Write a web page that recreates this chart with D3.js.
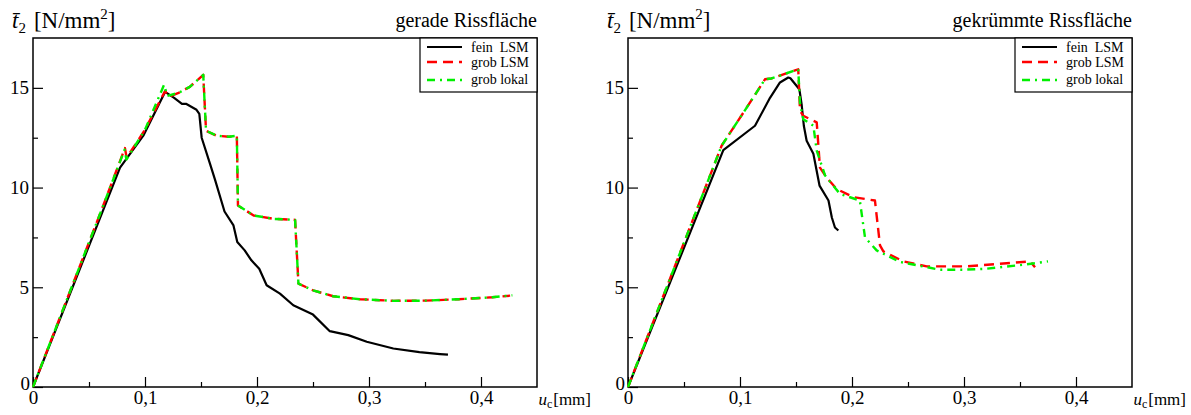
<!DOCTYPE html>
<html>
<head>
<meta charset="utf-8">
<script src="https://cdn.jsdelivr.net/npm/d3@7"></script>
<style>
  html, body { margin: 0; padding: 0; background: #fff; }
  svg { display: block; }
  svg text { font-family: "Liberation Serif", "DejaVu Serif", serif !important; fill: #000; }
</style>
</head>
<body>
<svg id="chart" width="1191" height="415"></svg>
<script>
// ---- data (u_c in mm, t2 in N/mm^2) ----
const panelTitles = ["gerade Rissfläche", "gekrümmte Rissfläche"];
const seriesNames = ["fein  LSM", "grob LSM", "grob lokal"];
const xTicks = [0, 0.1, 0.2, 0.3, 0.4];
const yTicks = [0, 5, 10, 15];

// left panel: gerade Rissfläche
const leftFein = [
  [0,0],[0.0777,11.0],[0.0985,12.6],[0.118,14.8],[0.126,14.5],[0.133,14.2],[0.1366,14.2],
  [0.146,13.9],[0.1485,13.7],[0.1506,12.5],[0.158,11.2],[0.1625,10.4],[0.171,8.8],
  [0.179,8.1],[0.1824,7.27],[0.189,6.85],[0.195,6.35],[0.202,5.93],[0.2086,5.1],
  [0.2205,4.68],[0.2324,4.1],[0.25,3.63],[0.265,2.8],[0.2815,2.6],[0.298,2.27],
  [0.3217,1.93],[0.345,1.75],[0.3634,1.65],[0.3705,1.62]
];
const leftGrobLSM = [
  [0,0],[0.06,8.7],[0.0821,11.98],[0.0836,11.5],[0.1,12.9],[0.118,14.85],[0.121,14.55],
  [0.13,14.75],[0.14,15.05],[0.152,15.65],[0.1545,12.85],[0.164,12.6],[0.175,12.55],
  [0.182,12.6],[0.183,9.1],[0.197,8.6],[0.215,8.43],[0.234,8.38],[0.237,5.18],
  [0.25,4.85],[0.268,4.55],[0.292,4.4],[0.322,4.32],[0.35,4.33],[0.38,4.4],[0.41,4.5],[0.426,4.58]
];
const leftGrobLokal = [
  [0,0],[0.06,8.7],[0.0818,11.9],[0.0834,11.4],[0.1,12.9],[0.117,15.15],[0.12,14.6],
  [0.13,14.75],[0.14,15.05],[0.152,15.65],[0.1545,12.85],[0.164,12.6],[0.175,12.55],
  [0.182,12.6],[0.183,9.1],[0.197,8.6],[0.215,8.43],[0.234,8.38],[0.237,5.18],
  [0.25,4.85],[0.268,4.55],[0.292,4.4],[0.322,4.32],[0.35,4.33],[0.38,4.4],[0.41,4.5],[0.428,4.6]
];

// right panel: gekrümmte Rissfläche
const rightFein = [
  [0,0],[0.0851,11.88],[0.1134,13.1],[0.1268,14.5],[0.1357,15.27],[0.1431,15.52],[0.145,15.48],
  [0.153,14.93],[0.155,14.18],[0.157,13.1],[0.1595,12.35],[0.1655,11.7],[0.171,10.1],
  [0.179,9.35],[0.182,8.5],[0.1848,8.0],[0.1878,7.85]
];
const rightGrobLSM = [
  [0,0],[0.0836,12.1],[0.109,14.27],[0.1223,15.43],[0.128,15.47],[0.14,15.7],[0.152,15.93],
  [0.1536,13.85],[0.1565,13.6],[0.1685,13.27],[0.1714,11.0],[0.1774,10.5],[0.1863,9.93],
  [0.2012,9.52],[0.2205,9.35],[0.225,7.1],[0.228,6.8],[0.2458,6.3],[0.2667,6.05],
  [0.3024,6.05],[0.332,6.18],[0.359,6.3],[0.3634,6.0]
];
const rightGrobLokal = [
  [0,0],[0.0836,12.1],[0.109,14.27],[0.1223,15.43],[0.128,15.47],[0.14,15.7],[0.152,15.93],
  [0.1536,14.2],[0.1565,13.43],[0.1655,13.1],[0.1685,11.85],[0.176,10.6],[0.1893,9.68],
  [0.207,9.35],[0.2116,7.5],[0.222,6.85],[0.2429,6.27],[0.2786,5.88],[0.2994,5.88],
  [0.3202,5.93],[0.356,6.15],[0.375,6.3]
];

// ---- drawing ----
const svg = d3.select("#chart");
const styles = [
  { color: "#000000", width: 2.2, dash: null },
  { color: "#ff0000", width: 2.4, dash: "10,6" },
  { color: "#00f000", width: 2.4, dash: "8,5,2,5" }
];
const fmt = d => d === 0 ? "0" : d3.format(".1f")(d).replace(".", ",");
const FONT = "Liberation Serif, DejaVu Serif, serif";

const panels = [
  { left: 33, title: panelTitles[0], series: [leftFein, leftGrobLSM, leftGrobLokal] },
  { left: 628, title: panelTitles[1], series: [rightFein, rightGrobLSM, rightGrobLokal] }
];

panels.forEach(p => {
  const w = 504, top = 38, bottom = 387;
  const x = d3.scaleLinear().domain([0, 0.45]).range([p.left, p.left + w]);
  const y = d3.scaleLinear().domain([0, 17.5]).range([bottom, top]);
  const g = svg.append("g").attr("font-family", FONT);

  // minor ticks
  g.append("g").attr("transform", `translate(0,${bottom})`)
    .call(d3.axisBottom(x).tickValues(d3.range(0.05, 0.45, 0.1)).tickSize(-5).tickFormat(""))
    .call(a => a.select(".domain").remove())
    .selectAll("line").attr("stroke-width", 1.2);
  g.append("g").attr("transform", `translate(${p.left},0)`)
    .call(d3.axisLeft(y).tickValues([2.5, 7.5, 12.5]).tickSize(-5).tickFormat(""))
    .call(a => a.select(".domain").remove())
    .selectAll("line").attr("stroke-width", 1.2);

  // major ticks
  const xa = g.append("g").attr("transform", `translate(0,${bottom})`)
    .call(d3.axisBottom(x).tickValues(xTicks).tickSize(-10).tickPadding(3).tickFormat(fmt));
  xa.attr("font-family", FONT);
  xa.select(".domain").remove();
  xa.selectAll("line").attr("stroke-width", 1.2);
  xa.selectAll("text").attr("font-size", 19).attr("fill", "#000");
  const ya = g.append("g").attr("transform", `translate(${p.left},0)`)
    .call(d3.axisLeft(y).tickValues(yTicks).tickSize(-10).tickPadding(4).tickFormat(d3.format("d")));
  ya.attr("font-family", FONT);
  ya.select(".domain").remove();
  ya.selectAll("line").attr("stroke-width", 1.2);
  ya.selectAll("text").attr("font-size", 19).attr("fill", "#000");
  ya.selectAll(".tick").filter(d => d === 0).select("text").attr("dy", "0.15em").attr("x", -3);

  // frame
  g.append("rect").attr("x", p.left).attr("y", top).attr("width", w).attr("height", bottom - top)
    .attr("fill", "none").attr("stroke", "#000").attr("stroke-width", 1.5);

  // lines
  const line = d3.line().x(d => x(d[0])).y(d => y(d[1]));
  p.series.forEach((s, i) => {
    g.append("path").datum(s).attr("d", line)
      .attr("fill", "none").attr("stroke", styles[i].color)
      .attr("stroke-width", styles[i].width)
      .attr("stroke-linejoin", "round")
      .attr("stroke-dasharray", styles[i].dash);
  });

  // legend
  const lx = p.left + w - 117, ly = top;
  g.append("rect").attr("x", lx).attr("y", ly).attr("width", 117).attr("height", 54)
    .attr("fill", "#fff").attr("stroke", "#000").attr("stroke-width", 1.2);
  const rows = [47, 62, 80];
  const textRows = [52, 67, 84];
  seriesNames.forEach((n, i) => {
    g.append("line").attr("x1", lx + 7).attr("x2", lx + 42).attr("y1", rows[i]).attr("y2", rows[i])
      .attr("stroke", styles[i].color).attr("stroke-width", styles[i].width)
      .attr("stroke-dasharray", styles[i].dash);
    g.append("text").attr("x", lx + 51).attr("y", textRows[i]).attr("font-size", 14)
      .style("white-space", "pre").text(n);
  });

  // title
  g.append("text").attr("x", p.left + w).attr("y", 27).attr("text-anchor", "end")
    .attr("font-size", 20).text(p.title);

  // y label
  const yl = g.append("text").attr("x", p.left - 21).attr("y", 28).attr("font-size", 23);
  yl.append("tspan").attr("font-style", "italic").text("t\u0304");
  yl.append("tspan").attr("font-size", 15).attr("dy", 5).text("2");
  yl.append("tspan").attr("dy", -5).attr("dx", 8).text("[N/mm");
  yl.append("tspan").attr("font-size", 15).attr("dy", -9).text("2");
  yl.append("tspan").attr("dy", 9).text("]");

  // x label (right-anchored so it stays inside the picture)
  const xl = g.append("text").attr("x", p.left + w + 54).attr("y", 405)
    .attr("font-size", 17).attr("text-anchor", "end");
  xl.append("tspan").attr("font-style", "italic").text("u");
  xl.append("tspan").attr("font-size", 12).attr("dy", 3).text("c");
  xl.append("tspan").attr("dy", -3).attr("dx", 1).text("[mm]");
});
</script>
</body>
</html>
